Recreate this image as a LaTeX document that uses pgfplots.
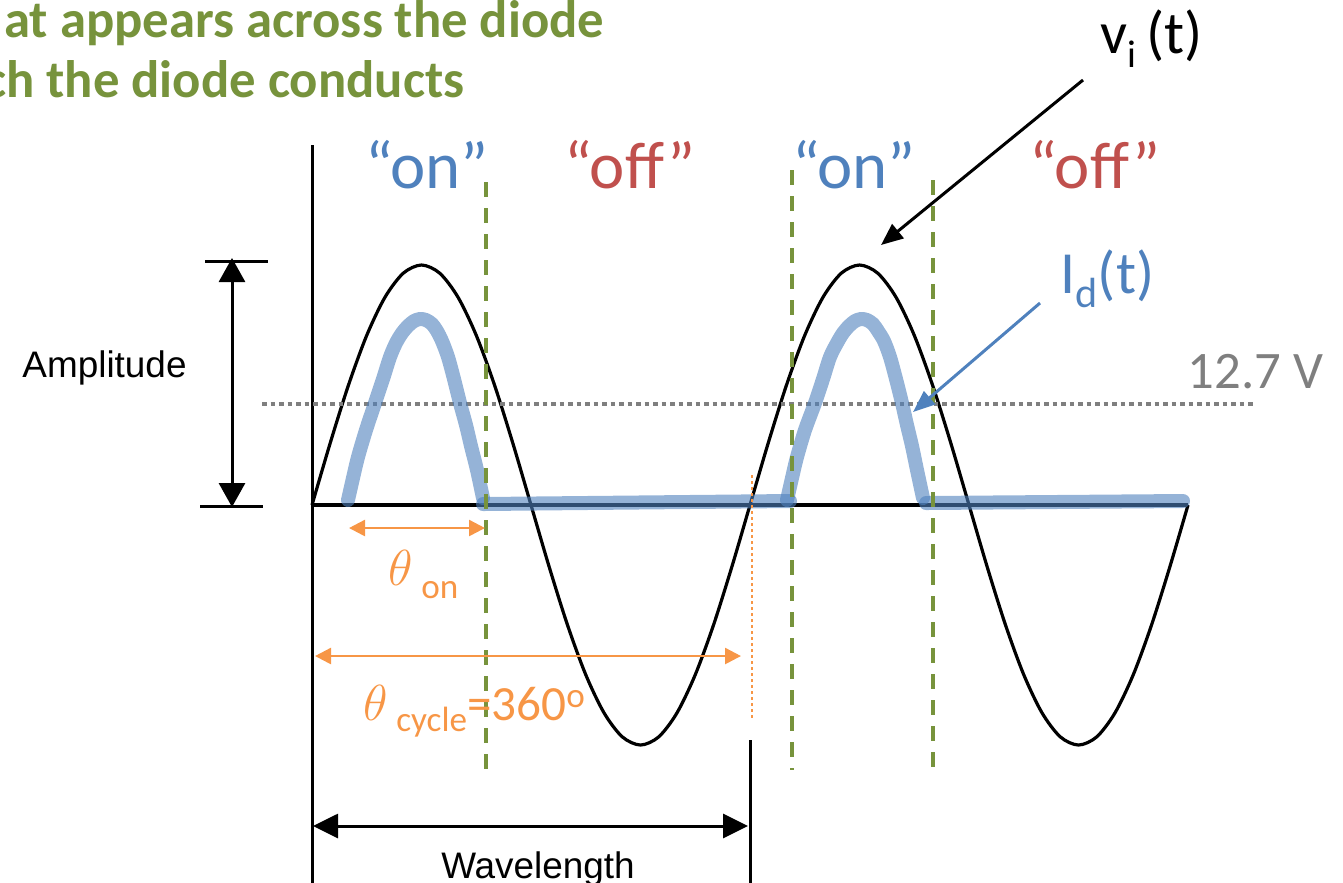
\documentclass[border=0pt]{standalone}
\usepackage{pgfplots}
\pgfplotsset{compat=1.18}
\usepackage{fontspec}
\setmainfont{Carlito}
\newfontfamily\arial{Liberation Sans}
\usetikzlibrary{arrows.meta}
\definecolor{tgreen}{HTML}{77933C}
\definecolor{tblue}{HTML}{4F81BD}
\definecolor{tred}{HTML}{C0504D}
\definecolor{torange}{HTML}{F79646}
\definecolor{tgray}{HTML}{7F7F7F}
\begin{document}
\begin{tikzpicture}
\path[use as bounding box] (0,0) rectangle (13.43cm,8.82cm);
\begin{axis}[width=13.43cm,height=8.82cm,scale only axis,
  xmin=0,xmax=1343,ymin=0,ymax=882,y dir=reverse,hide axis,clip=false]
% input voltage sine v_i(t)
\addplot[black,line width=0.32mm,smooth] coordinates {
(312,505)(330.25,442.9)(348.5,385)(366.75,335.3)(385,297.2)(403.25,273.2)(421.5,265)
(439.75,273.2)(458,297.2)(476.25,335.3)(494.5,385)(512.75,442.9)(531,505)(549.25,567.1)
(567.5,625)(585.75,674.7)(604,712.8)(622.25,736.8)(640.5,745)(658.75,736.8)(677,712.8)
(695.25,674.7)(713.5,625)(731.75,567.1)(750,505)(768.25,442.9)(786.5,385)(804.75,335.3)
(823,297.2)(841.25,273.2)(859.5,265)(877.75,273.2)(896,297.2)(914.25,335.3)(932.5,385)
(950.75,442.9)(969,505)(987.25,567.1)(1005.5,625)(1023.75,674.7)(1042,712.8)(1060.25,736.8)
(1078.5,745)(1096.75,736.8)(1115,712.8)(1133.25,674.7)(1151.5,625)(1169.75,567.1)(1188,505)};
% baseline and vertical markers
\addplot[black,line width=0.35mm] coordinates {(312,505)(1188,505)};
\addplot[black,line width=0.3mm] coordinates {(312,145)(312,890)};
\addplot[black,line width=0.3mm] coordinates {(750,740)(750,890)};
% amplitude marker
\addplot[black,line width=0.3mm] coordinates {(205,261)(268,261)};
\addplot[black,line width=0.3mm] coordinates {(200,506)(263,506)};
\addplot[black,line width=0.3mm,{Triangle[length=2.4mm,width=2.6mm]}-{Triangle[length=2.4mm,width=2.6mm]}] coordinates {(232,258)(232,507)};
% wavelength arrow
\addplot[black,line width=0.3mm,{Triangle[length=2.5mm,width=2.4mm]}-{Triangle[length=2.5mm,width=2.4mm]}] coordinates {(313,826)(748,826)};
% 12.7 V dotted level
\addplot[tgray,line width=0.35mm,dash pattern=on 0.45mm off 0.4mm] coordinates {(262,404)(1253,404)};
% diode current I_d(t)
\addplot[tblue,opacity=0.6,line width=1.4mm,smooth,line cap=round,line join=round] coordinates {
(348,500)(353,478)(358,457)(366,430)(375,403)(383,379)(390,357)(396,343)(402,333)(408,326)(414,321)(420,319)(426,320)(432,324)(437,331)(442,341)(448,357)(454,379)(460,403)(466,425)(471,446)(477,470)(483,498)};
\addplot[tblue,opacity=0.6,line width=1.4mm,line cap=round] coordinates {(483,504)(790,501)};
\addplot[tblue,opacity=0.6,line width=1.4mm,smooth,line cap=round,line join=round] coordinates {
(787,500)(792,478)(797,457)(805,430)(815,403)(823,379)(830,357)(837,343)(843,333)(849,326)(855,321)(861,319)(867,320)(873,324)(878,331)(884,341)(890,357)(896,379)(902,403)(907,425)(912,446)(917,470)(923,498)};
\addplot[tblue,opacity=0.6,line width=1.4mm,line cap=round] coordinates {(926,503)(1183,501)};
% green dashed on/off boundaries
\addplot[tgreen,line width=0.4mm,dash pattern=on 1.5mm off 1.1mm] coordinates {(486,182)(486,775)};
\addplot[tgreen,line width=0.4mm,dash pattern=on 1.5mm off 1.1mm] coordinates {(792,170)(792,770)};
\addplot[tgreen,line width=0.4mm,dash pattern=on 1.5mm off 1.1mm] coordinates {(933,180)(933,775)};
% orange angle arrows
\addplot[torange,line width=0.25mm,{Triangle[length=1.6mm,width=1.6mm]}-{Triangle[length=1.6mm,width=1.6mm]}] coordinates {(349,528)(485,528)};
\addplot[torange,line width=0.25mm,{Triangle[length=1.6mm,width=1.6mm]}-{Triangle[length=1.6mm,width=1.6mm]}] coordinates {(315,656)(741,656)};
\addplot[torange,line width=0.2mm,dash pattern=on 0.3mm off 0.3mm] coordinates {(752,475)(752,720)};
% pointer arrows
\addplot[black,line width=0.3mm,-{Triangle[length=2.2mm,width=1.8mm]}] coordinates {(1083,80)(881,245)};
\addplot[tblue,line width=0.3mm,-{Triangle[length=2.2mm,width=1.7mm]}] coordinates {(1040,303)(913,412)};
% texts
\node[anchor=base east,inner sep=0,text=tgreen,font=\fontsize{15}{18}\selectfont\bfseries] at (axis cs:605,37) {at appears across the diode};
\node[anchor=base east,inner sep=0,text=tgreen,font=\fontsize{15}{18}\selectfont\bfseries] at (axis cs:465,97) {which the diode conducts};
\node[anchor=base,inner sep=0,text=tblue,font=\fontsize{19}{22}\selectfont] at (axis cs:427,188) {“on”};
\node[anchor=base,inner sep=0,text=tred,font=\fontsize{19}{22}\selectfont] at (axis cs:630,188) {“off”};
\node[anchor=base,inner sep=0,text=tblue,font=\fontsize{19}{22}\selectfont] at (axis cs:854,188) {“on”};
\node[anchor=base,inner sep=0,text=tred,font=\fontsize{19}{22}\selectfont] at (axis cs:1095,188) {“off”};
\node[anchor=base west,inner sep=0,font=\fontsize{17}{20}\selectfont] at (axis cs:1100,53) {v\raisebox{-4pt}{\fontsize{11}{11}\selectfont i}\,(t)};
\node[anchor=base west,inner sep=0,text=tblue,font=\fontsize{17}{20}\selectfont] at (axis cs:1060,293) {I\raisebox{-4pt}{\fontsize{12}{12}\selectfont d}(t)};
\node[anchor=base west,inner sep=0,text=tgray,font=\fontsize{15}{18}\selectfont] at (axis cs:1187,388) {12.7 V};
\node[anchor=base,inner sep=0,font=\arial\fontsize{10.5}{12}\selectfont] at (axis cs:104.5,377) {Amplitude};
\node[anchor=base,inner sep=0,font=\arial\fontsize{10.5}{12}\selectfont] at (axis cs:538,878) {Wavelength};
\node[anchor=base west,inner sep=0,text=torange,font=\fontsize{14}{16}\selectfont] at (axis cs:388,585) {$\theta$\,\raisebox{-3.7pt}{\fontsize{10}{10}\selectfont on}};
\node[anchor=base west,inner sep=0,text=torange,font=\fontsize{14}{16}\selectfont] at (axis cs:363,720) {$\theta$\,\raisebox{-3.4pt}{\fontsize{10}{10}\selectfont cycle}=360\raisebox{3.7pt}{\fontsize{10}{10}\selectfont o}};
\end{axis}
\end{tikzpicture}
\end{document}
